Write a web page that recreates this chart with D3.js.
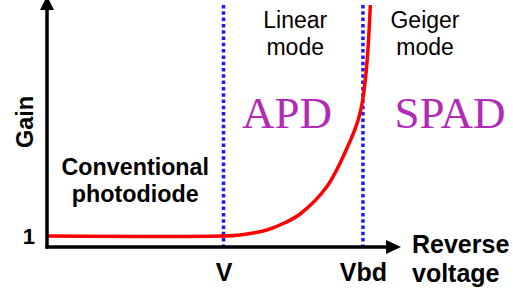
<!DOCTYPE html>
<html>
<head>
<meta charset="utf-8">
<script src="https://cdn.jsdelivr.net/npm/d3@7"></script>
<style>
  html, body { margin: 0; padding: 0; background: #fff; }
  svg { display: block; }
</style>
</head>
<body>
<div id="chart"></div>
<script>
// reverse voltage (arbitrary units) and gain
const voltage = [0, 49.6, 54.7, 62.3, 67.4, 71.7, 79.3, 85.0, 88.1, 89.5, 90.7, 91.6];
const gain    = [1, 1, 1.1, 1.55, 2.2, 3.0, 5.5, 9.0, 11.5, 13.5, 17.0, 22];

const boundaries = [50, 89.5];          // V, Vbd
const boundaryLabels = ['V', 'Vbd'];
const gainTicks = [1];

const width = 513, height = 291;

const svg = d3.select('#chart').append('svg')
  .attr('width', width)
  .attr('height', height);

const x = d3.scaleLinear().domain([0, 100]).range([47, 400]);
const y = d3.scaleLinear().domain([0, 22]).range([247, 5]);

// boundaries (dotted blue)
svg.selectAll('line.bound')
  .data(boundaries)
  .enter()
  .append('line')
  .attr('class', 'bound')
  .attr('x1', d => x(d))
  .attr('x2', d => x(d))
  .attr('y1', y(22))
  .attr('y2', y(0))
  .attr('stroke', '#1a1aff')
  .attr('stroke-width', 3.5)
  .attr('stroke-dasharray', '3.5,2.8');

// gain curve
const pts = voltage.map((v, i) => [v, gain[i]]);
const line = d3.line()
  .x(d => x(d[0]))
  .y(d => y(d[1]))
  .curve(d3.curveCatmullRom.alpha(0.5));

svg.append('path')
  .datum(pts)
  .attr('d', line)
  .attr('fill', 'none')
  .attr('stroke', '#ff0000')
  .attr('stroke-width', 3.5);

const sans = 'Liberation Sans, Arial, sans-serif';
const serif = 'Liberation Serif, Times New Roman, serif';

// axes
const xAxis = d3.axisBottom(x)
  .tickValues(boundaries)
  .tickSize(0)
  .tickPadding(16)
  .tickFormat((d, i) => boundaryLabels[i]);

const gx = svg.append('g')
  .attr('transform', `translate(0,${y(0)})`)
  .call(xAxis);
gx.select('.domain').remove();
gx.selectAll('text')
  .attr('fill', '#000')
  .style('font-family', sans)
  .style('font-weight', 'bold')
  .style('font-size', '25px');

const yAxis = d3.axisLeft(y)
  .tickValues(gainTicks)
  .tickSize(0)
  .tickPadding(12)
  .tickFormat(d3.format('d'));

const gy = svg.append('g')
  .attr('transform', `translate(${x(0)},0)`)
  .call(yAxis);
gy.select('.domain').remove();
gy.selectAll('text')
  .attr('fill', '#000')
  .style('font-family', sans)
  .style('font-weight', 'bold')
  .style('font-size', '22px');

// axis lines with arrow heads
svg.append('line')
  .attr('x1', x(0)).attr('x2', x(0))
  .attr('y1', y(0) + 1.5).attr('y2', 6)
  .attr('stroke', '#000').attr('stroke-width', 3.5);
svg.append('path')
  .attr('d', `M${x(0) - 7},10 L${x(0)},-4 L${x(0) + 7},10 Z`)
  .attr('fill', '#000');

svg.append('line')
  .attr('x1', x(0) - 1.5).attr('x2', x(100) - 8)
  .attr('y1', y(0)).attr('y2', y(0))
  .attr('stroke', '#000').attr('stroke-width', 3.5);
svg.append('path')
  .attr('d', `M${x(100) - 14},${y(0) - 7} L${x(100) + 1},${y(0)} L${x(100) - 14},${y(0) + 7} Z`)
  .attr('fill', '#000');

// axis titles
svg.append('text')
  .attr('transform', 'translate(33,122) rotate(-90)')
  .attr('text-anchor', 'middle')
  .style('font-family', sans).style('font-weight', 'bold').style('font-size', '23.5px')
  .text('Gain');

svg.append('text')
  .attr('x', 412).attr('y', 253)
  .style('font-family', sans).style('font-weight', 'bold').style('font-size', '25px')
  .text('Reverse');
svg.append('text')
  .attr('x', 412).attr('y', 282)
  .style('font-family', sans).style('font-weight', 'bold').style('font-size', '25px')
  .text('voltage');

// region labels
const midConv = (x(0) + x(boundaries[0])) / 2;
const midLin = (x(boundaries[0]) + x(boundaries[1])) / 2;
const midGei = 425;

svg.append('text')
  .attr('x', midConv).attr('y', 175)
  .attr('text-anchor', 'middle')
  .style('font-family', sans).style('font-weight', 'bold').style('font-size', '23.3px')
  .text('Conventional');
svg.append('text')
  .attr('x', midConv).attr('y', 202)
  .attr('text-anchor', 'middle')
  .style('font-family', sans).style('font-weight', 'bold').style('font-size', '23.3px')
  .text('photodiode');

[['Linear', midLin + 2], ['Geiger', midGei]].forEach(([t, cx]) => {
  svg.append('text')
    .attr('x', cx).attr('y', 28)
    .attr('text-anchor', 'middle')
    .style('font-family', sans).style('font-size', '23px')
    .text(t);
  svg.append('text')
    .attr('x', cx).attr('y', 55)
    .attr('text-anchor', 'middle')
    .style('font-family', sans).style('font-size', '23px')
    .text('mode');
});

svg.append('text')
  .attr('x', 287).attr('y', 128)
  .attr('text-anchor', 'middle')
  .attr('fill', '#b12cb4')
  .style('font-family', serif).style('font-size', '45px')
  .text('APD');
svg.append('text')
  .attr('x', 450).attr('y', 128)
  .attr('text-anchor', 'middle')
  .attr('fill', '#b12cb4')
  .style('font-family', serif).style('font-size', '45px')
  .text('SPAD');
</script>
</body>
</html>
